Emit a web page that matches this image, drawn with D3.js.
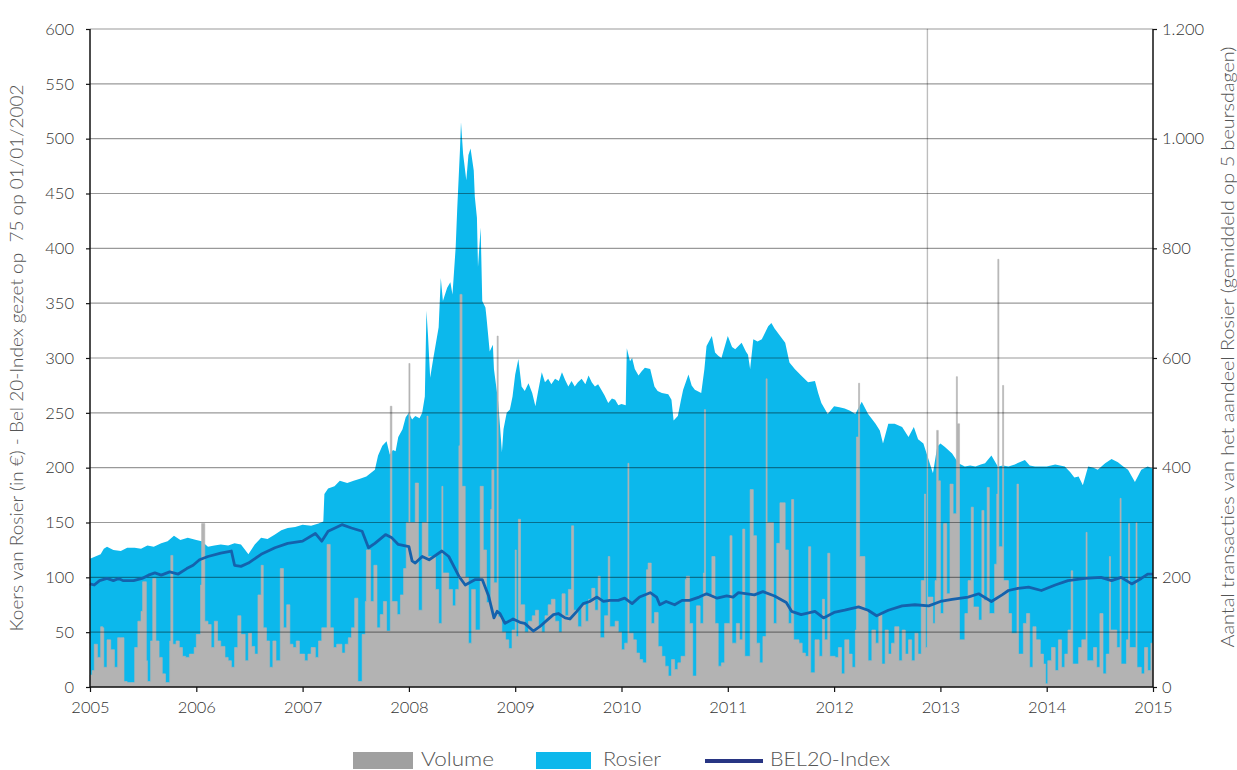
<!DOCTYPE html>
<html><head><meta charset="utf-8">
<script src="https://cdn.jsdelivr.net/npm/d3@7"></script>
<style>
body{margin:0;background:#fff}
text{font-family:Lato,"Open Sans",sans-serif;font-weight:300}
</style>
</head><body>
<svg id="chart" width="1237" height="770"></svg>
<script>
const yearTicks = [2005,2006,2007,2008,2009,2010,2011,2012,2013,2014,2015];
const leftTicks = [0,50,100,150,200,250,300,350,400,450,500,550,600];
const rightTicks = [0,200,400,600,800,1000,1200];
const leftTitle = "Koers van Rosier (in €) - Bel 20-Index gezet op  75 op 01/01/2002";
const rightTitle = "Aantal transacties van het aandeel Rosier (gemiddeld op 5 beursdagen)";
const seriesNames = ["Volume","Rosier","BEL20-Index"];

// Rosier share price [decimal year, €]
const rosier = [
[2005.00,117],[2005.05,119],[2005.10,121],[2005.13,126],[2005.16,128],[2005.22,125],[2005.29,124],[2005.35,127],[2005.42,127],[2005.48,126],[2005.54,129],[2005.60,128],[2005.67,131],[2005.73,133],[2005.79,138],[2005.85,134],[2005.92,136],[2006.00,134],[2006.05,133],
[2006.11,128],[2006.17,129],[2006.23,130],[2006.30,129],[2006.36,131],[2006.42,130],[2006.46,125],[2006.49,121],[2006.55,130],[2006.61,136],[2006.67,135],[2006.74,139],[2006.80,143],[2006.86,145],[2006.93,146],[2007.00,148],[2007.08,147],[2007.15,149],[2007.195,151],
[2007.205,176],[2007.24,181],[2007.30,183],[2007.35,188],[2007.42,186],[2007.48,188],[2007.54,190],[2007.60,192],[2007.68,198],[2007.71,211],[2007.75,220],[2007.79,224],[2007.82,212],[2007.85,216],[2007.875,215],[2007.90,228],[2007.94,235],[2007.97,246],[2008.00,250],[2008.03,244],[2008.06,247],[2008.10,245],[2008.125,250],[2008.15,265],
[2008.165,343],[2008.18,320],[2008.20,282],[2008.23,300],[2008.28,328],[2008.30,373],[2008.32,352],[2008.36,364],[2008.39,369],[2008.41,358],[2008.44,401],[2008.455,437],[2008.48,489],[2008.49,515],[2008.51,486],[2008.54,462],[2008.56,485],[2008.58,491],[2008.61,471],[2008.62,447],[2008.64,428],[2008.65,383],[2008.675,419],[2008.69,352],[2008.72,346],[2008.73,337],[2008.76,306],[2008.79,312],[2008.80,290],[2008.84,260],[2008.875,214],[2008.89,235],[2008.92,250],[2008.95,253],[2008.975,265],
[2009.00,285],[2009.03,299],[2009.06,274],[2009.09,270],[2009.125,277],[2009.16,268],[2009.19,256],[2009.22,272],[2009.25,287],[2009.28,278],[2009.31,281],[2009.34,276],[2009.375,281],[2009.41,279],[2009.44,287],[2009.47,280],[2009.50,274],[2009.53,279],[2009.56,274],[2009.59,278],[2009.625,281],[2009.66,276],[2009.69,284],[2009.72,278],[2009.75,274],[2009.78,276],[2009.81,271],[2009.84,266],[2009.875,259],[2009.91,263],[2009.94,262],[2009.97,257],[2010.00,258],[2010.04,257],
[2010.05,309],[2010.08,297],[2010.10,300],[2010.125,290],[2010.16,284],[2010.19,288],[2010.22,291],[2010.27,290],[2010.31,274],[2010.34,270],[2010.38,268],[2010.44,267],[2010.47,262],[2010.49,243],[2010.53,247],[2010.56,262],[2010.58,271],[2010.63,285],[2010.66,275],[2010.69,271],[2010.75,268],[2010.78,290],[2010.80,311],[2010.85,320],[2010.88,305],[2010.91,302],[2010.94,300],[2011.00,320],[2011.04,310],[2011.07,308],[2011.13,314],[2011.17,306],[2011.19,303],[2011.21,290],[2011.24,317],[2011.28,315],[2011.32,317],[2011.38,329],[2011.41,332],[2011.44,327],[2011.47,323],[2011.54,314],[2011.58,296],[2011.63,290],[2011.69,284],[2011.755,278],[2011.82,279],[2011.85,268],[2011.88,259],[2011.94,249],[2012.00,256],
[2012.05,255],[2012.10,254],[2012.15,252],[2012.20,249],[2012.26,260],[2012.32,249],[2012.39,240],[2012.43,234],[2012.46,222],[2012.51,240],[2012.57,240],[2012.64,237],[2012.70,228],[2012.75,237],[2012.79,226],[2012.84,222],[2012.89,207],[2012.93,195],[2012.97,219],[2013.00,222],[2013.04,219],[2013.11,213],[2013.17,204],[2013.23,201],[2013.28,202],[2013.33,201],[2013.38,203],[2013.42,204],[2013.48,211],[2013.54,201],[2013.59,202],[2013.64,201],[2013.70,203],[2013.795,207],[2013.84,202],[2013.89,201],[2014.00,201],[2014.08,203],[2014.17,201],[2014.22,196],[2014.26,191],[2014.30,192],[2014.34,184],[2014.39,201],[2014.44,200],[2014.48,198],[2014.55,204],[2014.61,208],[2014.67,205],[2014.72,201],[2014.765,198],[2014.83,187],[2014.89,198],[2014.95,201],[2015.00,199]
];

// BEL20 index (rebased) [decimal year, value]
const bel20 = [
[2005.00,94],[2005.04,93],[2005.09,97],[2005.16,99],[2005.22,97],[2005.27,99],[2005.31,97],[2005.41,97],[2005.49,99],[2005.55,102],[2005.61,104],[2005.67,102],[2005.75,105],[2005.83,103],[2005.91,108],[2005.97,111],[2006.03,116],[2006.11,119],[2006.23,122],[2006.33,124],[2006.36,111],[2006.42,110],[2006.49,113],[2006.61,121],[2006.74,127],[2006.86,131],[2007.00,133],[2007.12,140],[2007.18,133],[2007.24,142],[2007.37,148],[2007.46,145],[2007.56,142],[2007.62,127],[2007.68,131],[2007.78,139],[2007.84,136],[2007.90,130],[2008.00,128],
[2008.03,115],[2008.06,113],[2008.125,119],[2008.19,116],[2008.31,124],[2008.375,119],[2008.47,101],[2008.53,93],[2008.625,98],[2008.69,98],[2008.75,83],[2008.80,63],[2008.83,69],[2008.857,67],[2008.904,58],[2008.98,62],[2009.045,59],[2009.09,58],[2009.17,51],[2009.23,55],[2009.30,61],[2009.36,66],[2009.405,67],[2009.47,63],[2009.515,62],[2009.58,69],[2009.64,76],[2009.70,78],[2009.77,82],[2009.83,78],[2009.89,79],[2009.97,79],[2010.03,81],
[2010.10,76],[2010.17,82],[2010.27,86],[2010.33,82],[2010.36,75],[2010.42,78],[2010.50,75],[2010.57,79],[2010.64,79],[2010.73,82],[2010.80,85],[2010.90,81],[2010.99,83],[2011.05,82],[2011.10,86],[2011.25,84],[2011.33,87],[2011.44,83],[2011.55,77],[2011.60,69],[2011.69,66],[2011.82,69],[2011.90,63],[2012.00,68],
[2012.10,70],[2012.23,73],[2012.32,70],[2012.40,65],[2012.51,70],[2012.64,74],[2012.76,75],[2012.89,74],[2013.00,78],[2013.11,80],[2013.26,82],[2013.36,85],[2013.48,78],[2013.58,84],[2013.64,88],[2013.73,90],[2013.83,91],[2013.95,88],[2014.08,93],[2014.20,97],[2014.36,99],[2014.51,100],[2014.61,97],[2014.70,100],[2014.80,94],[2014.89,99],[2014.95,103],[2015.00,103]
];

// Volume: number of transactions (5-day average) [decimal year, count]
const volume = [
[2005.00,22],[2005.02,30],[2005.04,78],[2005.07,54],[2005.10,110],[2005.12,108],[2005.13,36],[2005.16,86],[2005.195,68],[2005.23,36],[2005.26,90],[2005.29,90],[2005.32,10],[2005.35,8],[2005.38,8],[2005.42,72],[2005.45,120],[2005.48,138],[2005.495,192],[2005.53,48],[2005.54,10],[2005.57,84],[2005.59,198],[2005.62,84],[2005.65,54],[2005.68,24],[2005.71,8],[2005.75,84],[2005.76,240],[2005.78,78],[2005.81,84],[2005.84,72],[2005.87,56],[2005.90,54],[2005.935,60],[2005.98,72],[2006.00,96],
[2006.04,186],[2006.05,298],[2006.08,120],[2006.11,114],[2006.14,72],[2006.17,120],[2006.20,84],[2006.23,74],[2006.27,54],[2006.30,48],[2006.33,36],[2006.36,72],[2006.39,130],[2006.42,96],[2006.46,48],[2006.49,98],[2006.52,74],[2006.55,60],[2006.58,168],[2006.61,222],[2006.63,108],[2006.66,84],[2006.69,36],[2006.72,84],[2006.75,48],[2006.79,216],[2006.82,108],[2006.85,150],[2006.88,78],[2006.91,72],[2006.94,84],[2006.97,60],
[2007.02,48],[2007.05,60],[2007.08,72],[2007.12,54],[2007.15,84],[2007.18,108],[2007.23,260],[2007.26,108],[2007.29,72],[2007.32,78],[2007.37,62],[2007.40,78],[2007.43,90],[2007.46,108],[2007.49,162],[2007.52,10],[2007.56,96],[2007.59,156],[2007.60,250],[2007.64,156],[2007.67,222],[2007.70,108],[2007.73,132],[2007.76,156],[2007.79,102],[2007.825,512],[2007.84,156],[2007.89,132],[2007.92,168],[2007.95,216],[2007.975,300],[2008.00,590],
[2008.01,300],[2008.06,372],[2008.09,140],[2008.125,300],[2008.17,494],[2008.18,238],[2008.25,178],[2008.28,116],[2008.31,366],[2008.32,208],[2008.375,178],[2008.41,148],[2008.44,178],[2008.47,440],[2008.48,716],[2008.50,366],[2008.53,200],[2008.56,80],[2008.59,178],[2008.625,104],[2008.67,366],[2008.70,250],[2008.73,154],[2008.77,324],[2008.78,396],[2008.80,190],[2008.83,640],[2008.84,128],[2008.875,100],[2008.91,86],[2008.94,70],[2008.97,104],[2009.00,250],
[2009.01,92],[2009.03,306],[2009.05,150],[2009.09,100],[2009.125,120],[2009.16,130],[2009.19,140],[2009.22,110],[2009.25,100],[2009.28,130],[2009.31,150],[2009.34,160],[2009.375,120],[2009.41,100],[2009.44,170],[2009.47,130],[2009.50,178],[2009.53,294],[2009.55,140],[2009.59,110],[2009.625,150],[2009.66,120],[2009.69,160],[2009.72,180],[2009.75,140],[2009.78,202],[2009.80,90],[2009.84,130],[2009.875,238],[2009.89,110],[2009.94,120],[2009.97,100],
[2010.00,68],[2010.03,80],[2010.06,408],[2010.07,98],[2010.11,86],[2010.14,62],[2010.17,50],[2010.20,44],[2010.235,214],[2010.25,226],[2010.28,116],[2010.31,136],[2010.345,74],[2010.38,56],[2010.41,38],[2010.44,20],[2010.47,50],[2010.50,32],[2010.53,44],[2010.56,56],[2010.60,196],[2010.61,202],[2010.64,116],[2010.67,20],[2010.705,148],[2010.74,116],[2010.77,208],[2010.78,506],[2010.79,166],[2010.85,238],[2010.88,116],[2010.91,38],[2010.94,44],[2010.97,116],
[2011.02,276],[2011.04,80],[2011.08,116],[2011.11,86],[2011.14,288],[2011.16,56],[2011.21,360],[2011.24,276],[2011.27,80],[2011.30,44],[2011.33,92],[2011.36,562],[2011.37,300],[2011.43,116],[2011.46,262],[2011.49,336],[2011.52,336],[2011.54,250],[2011.57,116],[2011.60,342],[2011.62,86],[2011.67,80],[2011.70,62],[2011.73,56],[2011.76,256],[2011.78,26],[2011.82,86],[2011.86,56],[2011.89,160],[2011.91,86],[2011.94,244],[2011.96,56],
[2012.01,54],[2012.04,72],[2012.07,24],[2012.10,86],[2012.14,60],[2012.17,36],[2012.20,104],[2012.21,456],[2012.23,554],[2012.24,238],[2012.29,140],[2012.32,48],[2012.355,104],[2012.39,80],[2012.42,134],[2012.45,42],[2012.48,104],[2012.51,60],[2012.54,80],[2012.57,110],[2012.61,48],[2012.64,104],[2012.67,60],[2012.70,86],[2012.73,48],[2012.76,98],[2012.79,60],[2012.82,194],[2012.85,352],[2012.86,72],[2012.875,1200],[2012.88,164],[2012.93,116],[2012.95,194],[2012.965,468],[2012.98,376],[2013.00,134],
[2013.03,298],[2013.06,170],[2013.09,370],[2013.12,316],[2013.15,566],[2013.16,480],[2013.18,86],[2013.23,134],[2013.26,194],[2013.29,328],[2013.31,146],[2013.36,122],[2013.39,322],[2013.41,158],[2013.44,364],[2013.46,134],[2013.51,224],[2013.53,352],[2013.54,780],[2013.55,256],[2013.585,550],[2013.595,194],[2013.64,134],[2013.67,98],[2013.72,370],[2013.735,60],[2013.78,116],[2013.81,134],[2013.84,36],[2013.87,110],[2013.90,86],[2013.94,60],[2013.97,42],[2013.99,6],
[2014.01,48],[2014.045,72],[2014.08,30],[2014.11,86],[2014.14,36],[2014.17,60],[2014.20,104],[2014.23,212],[2014.245,42],[2014.30,72],[2014.33,86],[2014.37,282],[2014.38,48],[2014.44,72],[2014.47,36],[2014.50,134],[2014.53,24],[2014.56,60],[2014.59,238],[2014.60,104],[2014.66,72],[2014.69,344],[2014.70,42],[2014.75,86],[2014.77,298],[2014.78,72],[2014.84,300],[2014.85,36],[2014.89,24],[2014.92,72],[2014.95,30],[2014.98,80],[2015.00,80]
];

const svg = d3.select("#chart");
const W = 1237, H = 770;
const m = {left: 90, right: 1237 - 1153, top: 29, bottom: 770 - 687};

const x = d3.scaleLinear().domain([2005, 2015]).range([m.left, W - m.right]);
const yL = d3.scaleLinear().domain([0, 600]).range([H - m.bottom, m.top]);
const yR = d3.scaleLinear().domain([0, 1200]).range([H - m.bottom, m.top]);

const blue = "#0cb8ec", grey = "#b3b3b3", lineBlue = "#1462ad";

svg.append("path").datum(rosier)
  .attr("fill", blue)
  .attr("d", d3.area().x(d => x(d[0])).y0(yL(0)).y1(d => yL(d[1])));

svg.append("path").datum(volume)
  .attr("fill", grey).attr("stroke", grey).attr("stroke-width", 0.6)
  .attr("d", d3.area().curve(d3.curveStepAfter).x(d => x(d[0])).y0(yR(0)).y1(d => yR(d[1])));

// grid lines over the data
svg.append("g").selectAll("line").data(leftTicks.filter(t => t > 0)).join("line")
  .attr("x1", x(2005)).attr("x2", x(2015))
  .attr("y1", d => yL(d)).attr("y2", d => yL(d))
  .attr("stroke", "#000").attr("stroke-opacity", 0.4).attr("stroke-width", 1.2);

svg.append("path").datum(bel20)
  .attr("fill", "none").attr("stroke", lineBlue).attr("stroke-width", 2.8)
  .attr("stroke-linejoin", "round")
  .attr("d", d3.line().x(d => x(d[0])).y(d => yL(d[1])));

const nl = d3.formatLocale({decimal: ",", thousands: ".", grouping: [3], currency: ["€", ""]});
const fmtR = nl.format(",");

const axL = svg.append("g").attr("transform", `translate(${m.left},0)`)
  .call(d3.axisLeft(yL).tickValues(leftTicks).tickSize(4).tickPadding(12).tickFormat(d3.format("d")));
const axR = svg.append("g").attr("transform", `translate(${W - m.right},0)`)
  .call(d3.axisRight(yR).tickValues(rightTicks).tickSize(4).tickPadding(5).tickFormat(fmtR));
const axB = svg.append("g").attr("transform", `translate(0,${H - m.bottom})`)
  .call(d3.axisBottom(x).tickValues(yearTicks).tickSize(5).tickPadding(9).tickFormat(d3.format("d")));

[axL, axR, axB].forEach(a => {
  a.select(".domain").attr("stroke", "#111").attr("stroke-width", 1.5);
  a.selectAll(".tick line").attr("stroke", "#111").attr("stroke-width", 1.2);
  a.selectAll(".tick text").attr("fill", "#333").style("font-size", "16.5px")
   .style("font-family", "Lato, 'Open Sans', sans-serif").style("font-weight", 300);
});
axL.select(".domain").attr("d", `M0,${yL(0)}V${yL(600)}`);
axR.select(".domain").attr("d", `M0,${yR(0)}V${yR(1200)}`);
axB.select(".domain").attr("d", `M${x(2005)},0H${x(2015)}`);

svg.append("text")
  .attr("transform", `translate(23,358) rotate(-90)`)
  .attr("text-anchor", "middle").attr("fill", "#555").style("font-size", "17px")
  .attr("textLength", 547).attr("lengthAdjust", "spacingAndGlyphs")
  .style("white-space", "pre").text(leftTitle);
svg.append("text")
  .attr("transform", `translate(1234,347) rotate(-90)`)
  .attr("text-anchor", "middle").attr("fill", "#555").style("font-size", "17px")
  .attr("textLength", 601).attr("lengthAdjust", "spacingAndGlyphs")
  .text(rightTitle);

// legend
const lg = svg.append("g");
lg.append("rect").attr("x", 353).attr("y", 752).attr("width", 60).attr("height", 17).attr("fill", "#a0a0a0");
lg.append("text").attr("x", 421).attr("y", 766).attr("fill", "#555").style("font-size", "19.5px")
  .attr("textLength", 73).attr("lengthAdjust", "spacingAndGlyphs").text(seriesNames[0]);
lg.append("rect").attr("x", 536).attr("y", 752).attr("width", 55).attr("height", 17).attr("fill", blue);
lg.append("text").attr("x", 603).attr("y", 766).attr("fill", "#555").style("font-size", "19.5px")
  .attr("textLength", 58).attr("lengthAdjust", "spacingAndGlyphs").text(seriesNames[1]);
lg.append("line").attr("x1", 705).attr("x2", 763).attr("y1", 761).attr("y2", 761).attr("stroke", "#283583").attr("stroke-width", 4);
lg.append("text").attr("x", 770).attr("y", 766).attr("fill", "#555").style("font-size", "19.5px")
  .attr("textLength", 120).attr("lengthAdjust", "spacingAndGlyphs").text(seriesNames[2]);
</script>
</body></html>
